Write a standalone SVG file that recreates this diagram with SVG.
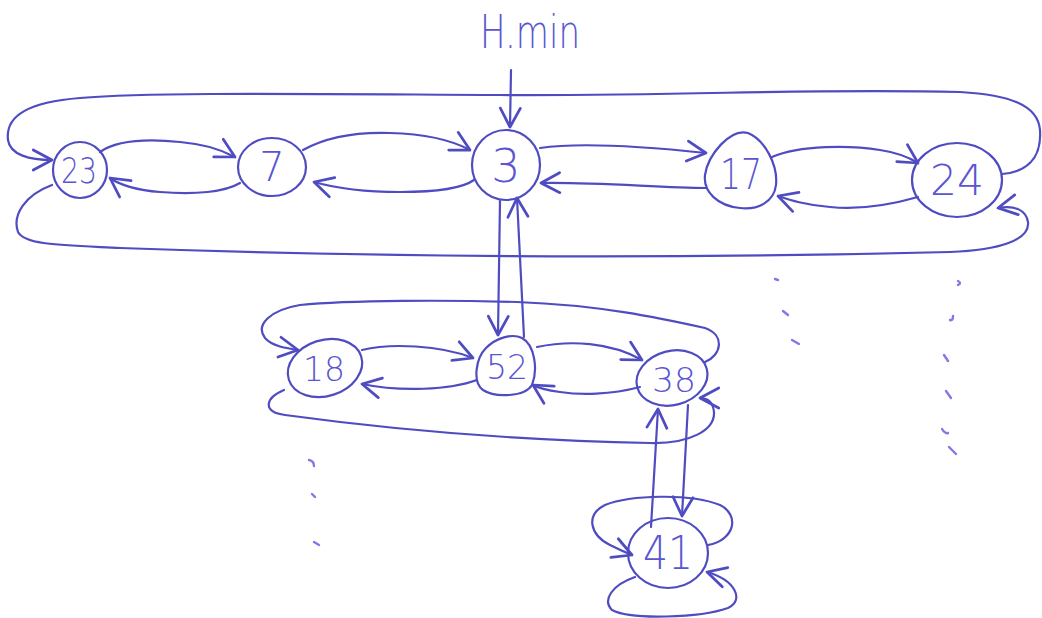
<svg xmlns="http://www.w3.org/2000/svg" width="1042" height="618" viewBox="0 0 1042 618">
<defs>
<style>
.n{fill:none;stroke:#4f4cc2;stroke-width:2.2}
.c{fill:none;stroke:#4f4cc2;stroke-width:2.2;stroke-linecap:round;marker-end:url(#ah)}
.t{font-family:"DejaVu Sans",sans-serif;fill:#5a55d0;text-anchor:middle;font-weight:200}
.d{fill:none;stroke:#8577e6;stroke-width:2.4;stroke-linecap:round}
</style>
<marker id="ah" markerUnits="userSpaceOnUse" markerWidth="30" markerHeight="30" viewBox="-20 -12 24 24" refX="0" refY="0" orient="auto">
<path d="M-15,-8 L0,0 L-15,8" fill="none" stroke="#4f4cc2" stroke-width="2.2" stroke-linecap="round" stroke-linejoin="round"/>
</marker>
</defs>
<rect width="1042" height="618" fill="#ffffff"/>

<g id="label-hmin">
<text class="t" x="530" y="48" font-size="46" textLength="100" lengthAdjust="spacingAndGlyphs">H.min</text>
</g>

<g id="connectors">
<path class="c" d="M511,70 L510,127"/>
<path class="c" d="M1002,174 C1025,172 1042,160 1040,130 C1038,105 1010,95 960,92 C800,88 700,96 500,95 C300,94 150,92 80,98 C30,102 5,115 8,140 C10,155 30,160 52,160"/>
<path class="c" d="M52,185 C25,195 12,215 18,232 C25,245 60,245 120,248 C400,258 700,258 950,252 C1000,250 1030,240 1028,222 C1026,210 1015,205 998,208"/>
<path class="c" d="M100,152 C120,138 160,140 180,142 C205,144 222,150 235,157"/>
<path class="c" d="M240,183 C225,192 195,195 160,192 C135,190 120,185 110,178"/>
<path class="c" d="M303,150 C330,135 360,132 390,133 C430,134 455,142 470,150"/>
<path class="c" d="M474,180 C460,190 430,192 400,192 C360,192 335,188 314,182"/>
<path class="c" d="M540,148 C580,142 640,146 706,153"/>
<path class="c" d="M706,188 C660,188 600,182 541,183"/>
<path class="c" d="M772,157 C800,145 850,145 880,150 C900,153 910,158 918,163"/>
<path class="c" d="M918,197 C890,205 860,210 830,207 C805,205 790,200 778,196"/>
<path class="c" d="M500,201 L498,335"/>
<path class="c" d="M524,337 L517,198"/>
<path class="c" d="M705,362 C722,355 725,335 705,328 C660,318 600,305 517,302 C450,300 350,300 300,305 C270,310 255,325 265,338 C272,346 285,348 298,350"/>
<path class="c" d="M284,390 C265,398 262,412 285,415 C380,428 500,440 650,443 C690,444 715,430 714,412 C713,402 708,398 700,398"/>
<path class="c" d="M362,350 C390,343 440,345 473,358"/>
<path class="c" d="M477,380 C450,390 400,392 362,384"/>
<path class="c" d="M537,347 C570,340 610,342 642,360"/>
<path class="c" d="M640,387 C610,395 580,395 560,392 C545,390 538,388 533,385"/>
<path class="c" d="M688,405 L682,516"/>
<path class="c" d="M651,527 L658,409"/>
<path class="c" d="M708,545 C735,540 740,515 720,505 C690,493 630,495 605,505 C585,515 590,535 610,545 C620,550 627,553 632,555"/>
<path class="c" d="M635,577 C612,585 602,600 612,610 C630,620 700,618 728,608 C745,600 735,580 707,572"/>
</g>

<g id="node-23"><ellipse class="n" cx="80" cy="170" rx="27" ry="28"/><text class="t" x="79" y="183" font-size="36" textLength="36" lengthAdjust="spacingAndGlyphs">23</text></g>
<g id="node-7"><ellipse class="n" cx="272" cy="167" rx="34" ry="29"/><text class="t" x="272" y="181" font-size="40">7</text></g>
<g id="node-3"><ellipse class="n" cx="506" cy="165" rx="34" ry="35"/><text class="t" x="506" y="182" font-size="46">3</text></g>
<g id="node-17"><path class="n" d="M748,133 C765,140 778,165 776,185 C774,202 758,210 740,208 C718,206 703,192 705,175 C708,155 730,128 748,133 Z"/><text class="t" x="741" y="189" font-size="42" textLength="42" lengthAdjust="spacingAndGlyphs">17</text></g>
<g id="node-24"><ellipse class="n" cx="957" cy="180" rx="45" ry="37"/><text class="t" x="957" y="195" font-size="42" textLength="54" lengthAdjust="spacingAndGlyphs">24</text></g>
<g id="node-18"><ellipse class="n" cx="325" cy="368" rx="38" ry="28" transform="rotate(-18 325 368)"/><text class="t" x="324" y="381" font-size="34" textLength="42" lengthAdjust="spacingAndGlyphs">18</text></g>
<g id="node-52"><path class="n" d="M522,338 C535,345 538,370 532,385 C525,397 495,398 483,390 C472,382 476,358 486,348 C496,338 512,333 522,338 Z"/><text class="t" x="507" y="379" font-size="34" textLength="42" lengthAdjust="spacingAndGlyphs">52</text></g>
<g id="node-38"><ellipse class="n" cx="672" cy="378" rx="36" ry="27" transform="rotate(-15 672 378)"/><text class="t" x="674" y="392" font-size="34" textLength="44" lengthAdjust="spacingAndGlyphs">38</text></g>
<g id="node-41"><ellipse class="n" cx="668" cy="553" rx="40" ry="35"/><text class="t" x="668" y="569" font-size="46" textLength="50" lengthAdjust="spacingAndGlyphs">41</text></g>

<g id="dots">
<path class="d" d="M309,460 Q314,461 314,466"/>
<path class="d" d="M312,494 L315,497"/>
<path class="d" d="M314,542 L319,545"/>
<path class="d" d="M775,279 L778,280"/>
<path class="d" d="M783,311 L788,315"/>
<path class="d" d="M792,340 L799,344"/>
<path class="d" d="M958,281 Q962,283 958,285"/>
<path class="d" d="M953,316 Q953,321 950,320"/>
<path class="d" d="M944,355 L948,361"/>
<path class="d" d="M946,391 L951,398"/>
<path class="d" d="M942,429 Q945,434 948,433"/>
<path class="d" d="M949,447 L956,454"/>
</g>
</svg>
